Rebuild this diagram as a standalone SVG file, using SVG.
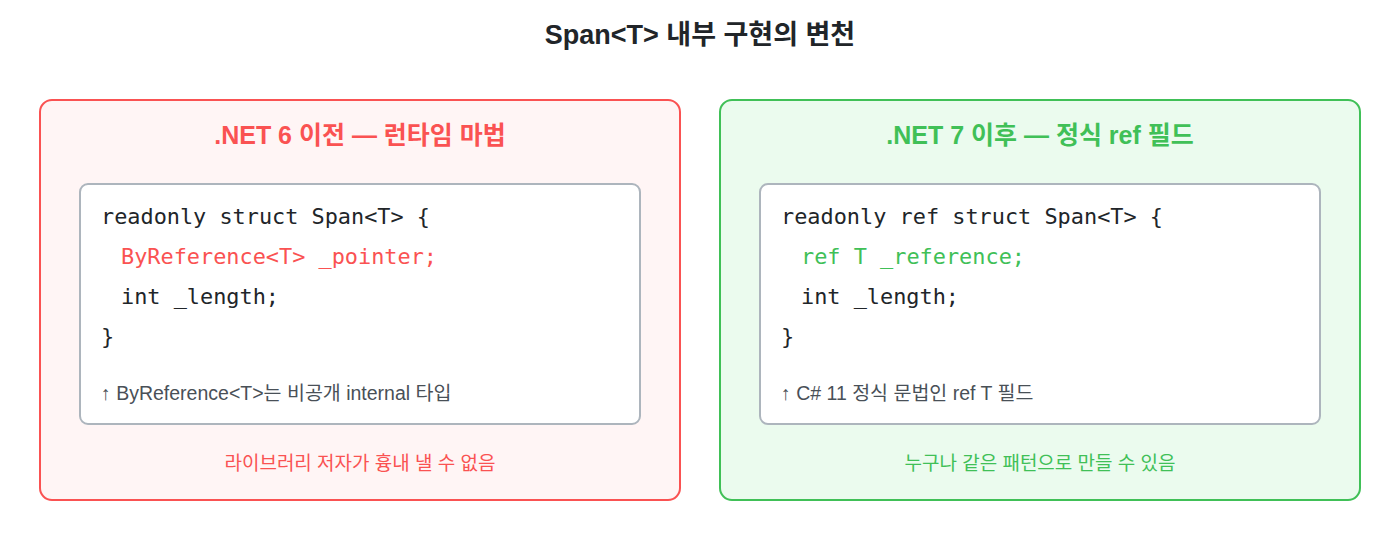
<svg xmlns="http://www.w3.org/2000/svg" width="1400" height="560" viewBox="0 0 1400 560">
<style>
.title{font-family:"Liberation Sans","Noto Sans CJK KR",sans-serif;font-size:27px;font-weight:bold;fill:#212529;text-anchor:middle}
.ptitle{font-family:"Liberation Sans","Noto Sans CJK KR",sans-serif;font-size:25px;font-weight:bold;text-anchor:middle}
.code{font-family:"DejaVu Sans Mono",monospace;font-size:22px;fill:#212529}
.note{font-family:"Liberation Sans","Noto Sans CJK KR",sans-serif;font-size:19.5px;fill:#495057}
.foot{font-family:"Liberation Sans","Noto Sans CJK KR",sans-serif;font-size:19px;text-anchor:middle}
.box{fill:#ffffff;stroke:#adb5bd;stroke-width:2}
.red{fill:#fa5252}
.green{fill:#40c057}
</style>
<text class="title" x="700" y="44">Span&lt;T&gt; 내부 구현의 변천</text>
<g id="before">
<rect x="40" y="100" width="640" height="400" rx="12" fill="#fff5f5" stroke="#fa5252" stroke-width="2"/>
<text class="ptitle red" x="360" y="144">.NET 6 이전 — 런타임 마법</text>
<rect class="box" x="80" y="184" width="560" height="240" rx="8"/>
<text class="code" x="101" y="224" textLength="329" lengthAdjust="spacingAndGlyphs">readonly struct Span&lt;T&gt; {</text>
<text class="code red" x="121" y="264" textLength="316" lengthAdjust="spacingAndGlyphs">ByReference&lt;T&gt; _pointer;</text>
<text class="code" x="121" y="304" textLength="158" lengthAdjust="spacingAndGlyphs">int _length;</text>
<text class="code" x="101" y="344">}</text>
<text class="note" x="101" y="400">↑ ByReference&lt;T&gt;는 비공개 internal 타입</text>
<text class="foot red" x="360" y="470">라이브러리 저자가 흉내 낼 수 없음</text>
</g>
<g id="after">
<rect x="720" y="100" width="640" height="400" rx="12" fill="#ebfbee" stroke="#40c057" stroke-width="2"/>
<text class="ptitle green" x="1040" y="144">.NET 7 이후 — 정식 ref 필드</text>
<rect class="box" x="760" y="184" width="560" height="240" rx="8"/>
<text class="code" x="781" y="224" textLength="382" lengthAdjust="spacingAndGlyphs">readonly ref struct Span&lt;T&gt; {</text>
<text class="code green" x="801" y="264" textLength="224" lengthAdjust="spacingAndGlyphs">ref T _reference;</text>
<text class="code" x="801" y="304" textLength="158" lengthAdjust="spacingAndGlyphs">int _length;</text>
<text class="code" x="781" y="344">}</text>
<text class="note" x="781" y="400">↑ C# 11 정식 문법인 ref T 필드</text>
<text class="foot green" x="1040" y="470">누구나 같은 패턴으로 만들 수 있음</text>
</g>
<g id="connectors"/>
</svg>
